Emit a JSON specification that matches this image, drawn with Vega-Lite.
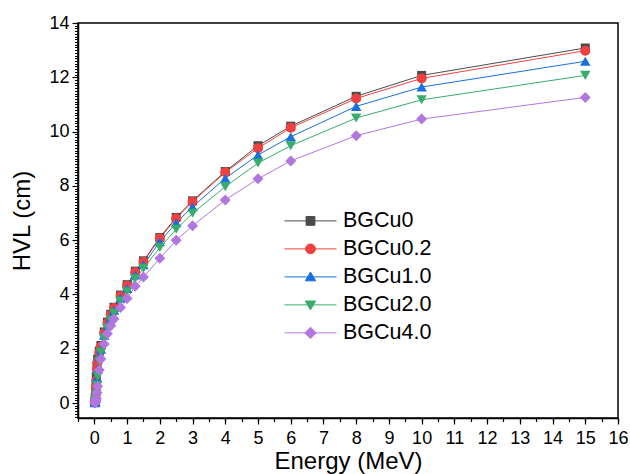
{
  "$schema": "https://vega.github.io/schema/vega-lite/v6.json",
  "autosize": {"type": "none"},
  "padding": {"left": 78, "top": 23, "right": 12, "bottom": 56},
  "width": 540,
  "height": 395,
  "background": "white",
  "config": {
    "font": "Liberation Sans",
    "view": {"stroke": "black", "strokeWidth": 1.5},
    "axis": {"domainColor": "black", "domainWidth": 1.5, "tickColor": "black", "tickWidth": 1.2, "labelColor": "black", "titleColor": "black", "grid": false, "labelFont": "Liberation Sans", "titleFont": "Liberation Sans", "titleFontWeight": "normal"}
  },
  "datasets": {
    "hvl": [
      {"series": "BGCu0", "e": 0.015, "v": 0.03}, {"series": "BGCu0", "e": 0.02, "v": 0.07}, {"series": "BGCu0", "e": 0.03, "v": 0.2}, {"series": "BGCu0", "e": 0.04, "v": 0.42}, {"series": "BGCu0", "e": 0.05, "v": 0.7}, {"series": "BGCu0", "e": 0.06, "v": 0.98}, {"series": "BGCu0", "e": 0.08, "v": 1.38}, {"series": "BGCu0", "e": 0.1, "v": 1.62}, {"series": "BGCu0", "e": 0.15, "v": 1.92}, {"series": "BGCu0", "e": 0.2, "v": 2.12}, {"series": "BGCu0", "e": 0.3, "v": 2.62}, {"series": "BGCu0", "e": 0.4, "v": 2.98}, {"series": "BGCu0", "e": 0.5, "v": 3.27}, {"series": "BGCu0", "e": 0.6, "v": 3.53}, {"series": "BGCu0", "e": 0.8, "v": 3.98}, {"series": "BGCu0", "e": 1, "v": 4.36}, {"series": "BGCu0", "e": 1.25, "v": 4.86}, {"series": "BGCu0", "e": 1.5, "v": 5.24}, {"series": "BGCu0", "e": 2, "v": 6.1}, {"series": "BGCu0", "e": 2.5, "v": 6.84}, {"series": "BGCu0", "e": 3, "v": 7.45}, {"series": "BGCu0", "e": 4, "v": 8.53}, {"series": "BGCu0", "e": 5, "v": 9.48}, {"series": "BGCu0", "e": 6, "v": 10.2}, {"series": "BGCu0", "e": 8, "v": 11.3}, {"series": "BGCu0", "e": 10, "v": 12.07}, {"series": "BGCu0", "e": 15, "v": 13.08},
      {"series": "BGCu0.2", "e": 0.015, "v": 0.02}, {"series": "BGCu0.2", "e": 0.02, "v": 0.05}, {"series": "BGCu0.2", "e": 0.03, "v": 0.15}, {"series": "BGCu0.2", "e": 0.04, "v": 0.33}, {"series": "BGCu0.2", "e": 0.05, "v": 0.58}, {"series": "BGCu0.2", "e": 0.06, "v": 0.83}, {"series": "BGCu0.2", "e": 0.08, "v": 1.25}, {"series": "BGCu0.2", "e": 0.1, "v": 1.52}, {"series": "BGCu0.2", "e": 0.15, "v": 1.86}, {"series": "BGCu0.2", "e": 0.2, "v": 2.07}, {"series": "BGCu0.2", "e": 0.3, "v": 2.58}, {"series": "BGCu0.2", "e": 0.4, "v": 2.94}, {"series": "BGCu0.2", "e": 0.5, "v": 3.24}, {"series": "BGCu0.2", "e": 0.6, "v": 3.5}, {"series": "BGCu0.2", "e": 0.8, "v": 3.95}, {"series": "BGCu0.2", "e": 1, "v": 4.32}, {"series": "BGCu0.2", "e": 1.25, "v": 4.82}, {"series": "BGCu0.2", "e": 1.5, "v": 5.2}, {"series": "BGCu0.2", "e": 2, "v": 6.07}, {"series": "BGCu0.2", "e": 2.5, "v": 6.8}, {"series": "BGCu0.2", "e": 3, "v": 7.42}, {"series": "BGCu0.2", "e": 4, "v": 8.5}, {"series": "BGCu0.2", "e": 5, "v": 9.39}, {"series": "BGCu0.2", "e": 6, "v": 10.14}, {"series": "BGCu0.2", "e": 8, "v": 11.22}, {"series": "BGCu0.2", "e": 10, "v": 11.96}, {"series": "BGCu0.2", "e": 15, "v": 12.98},
      {"series": "BGCu1.0", "e": 0.015, "v": 0.01}, {"series": "BGCu1.0", "e": 0.02, "v": 0.03}, {"series": "BGCu1.0", "e": 0.03, "v": 0.08}, {"series": "BGCu1.0", "e": 0.04, "v": 0.18}, {"series": "BGCu1.0", "e": 0.05, "v": 0.33}, {"series": "BGCu1.0", "e": 0.06, "v": 0.52}, {"series": "BGCu1.0", "e": 0.08, "v": 0.92}, {"series": "BGCu1.0", "e": 0.1, "v": 1.25}, {"series": "BGCu1.0", "e": 0.15, "v": 1.72}, {"series": "BGCu1.0", "e": 0.2, "v": 1.98}, {"series": "BGCu1.0", "e": 0.3, "v": 2.5}, {"series": "BGCu1.0", "e": 0.4, "v": 2.86}, {"series": "BGCu1.0", "e": 0.5, "v": 3.16}, {"series": "BGCu1.0", "e": 0.6, "v": 3.42}, {"series": "BGCu1.0", "e": 0.8, "v": 3.87}, {"series": "BGCu1.0", "e": 1, "v": 4.22}, {"series": "BGCu1.0", "e": 1.25, "v": 4.72}, {"series": "BGCu1.0", "e": 1.5, "v": 5.1}, {"series": "BGCu1.0", "e": 2, "v": 5.94}, {"series": "BGCu1.0", "e": 2.5, "v": 6.64}, {"series": "BGCu1.0", "e": 3, "v": 7.23}, {"series": "BGCu1.0", "e": 4, "v": 8.28}, {"series": "BGCu1.0", "e": 5, "v": 9.14}, {"series": "BGCu1.0", "e": 6, "v": 9.81}, {"series": "BGCu1.0", "e": 8, "v": 10.93}, {"series": "BGCu1.0", "e": 10, "v": 11.64}, {"series": "BGCu1.0", "e": 15, "v": 12.59},
      {"series": "BGCu2.0", "e": 0.015, "v": 0.01}, {"series": "BGCu2.0", "e": 0.02, "v": 0.02}, {"series": "BGCu2.0", "e": 0.03, "v": 0.05}, {"series": "BGCu2.0", "e": 0.04, "v": 0.11}, {"series": "BGCu2.0", "e": 0.05, "v": 0.2}, {"series": "BGCu2.0", "e": 0.06, "v": 0.33}, {"series": "BGCu2.0", "e": 0.08, "v": 0.65}, {"series": "BGCu2.0", "e": 0.1, "v": 0.98}, {"series": "BGCu2.0", "e": 0.15, "v": 1.55}, {"series": "BGCu2.0", "e": 0.2, "v": 1.88}, {"series": "BGCu2.0", "e": 0.3, "v": 2.4}, {"series": "BGCu2.0", "e": 0.4, "v": 2.76}, {"series": "BGCu2.0", "e": 0.5, "v": 3.06}, {"series": "BGCu2.0", "e": 0.6, "v": 3.32}, {"series": "BGCu2.0", "e": 0.8, "v": 3.76}, {"series": "BGCu2.0", "e": 1, "v": 4.1}, {"series": "BGCu2.0", "e": 1.25, "v": 4.58}, {"series": "BGCu2.0", "e": 1.5, "v": 4.96}, {"series": "BGCu2.0", "e": 2, "v": 5.73}, {"series": "BGCu2.0", "e": 2.5, "v": 6.4}, {"series": "BGCu2.0", "e": 3, "v": 6.99}, {"series": "BGCu2.0", "e": 4, "v": 7.97}, {"series": "BGCu2.0", "e": 5, "v": 8.84}, {"series": "BGCu2.0", "e": 6, "v": 9.48}, {"series": "BGCu2.0", "e": 8, "v": 10.5}, {"series": "BGCu2.0", "e": 10, "v": 11.17}, {"series": "BGCu2.0", "e": 15, "v": 12.07},
      {"series": "BGCu4.0", "e": 0.015, "v": 0.005}, {"series": "BGCu4.0", "e": 0.02, "v": 0.01}, {"series": "BGCu4.0", "e": 0.03, "v": 0.03}, {"series": "BGCu4.0", "e": 0.04, "v": 0.06}, {"series": "BGCu4.0", "e": 0.05, "v": 0.11}, {"series": "BGCu4.0", "e": 0.06, "v": 0.18}, {"series": "BGCu4.0", "e": 0.08, "v": 0.38}, {"series": "BGCu4.0", "e": 0.1, "v": 0.62}, {"series": "BGCu4.0", "e": 0.15, "v": 1.22}, {"series": "BGCu4.0", "e": 0.2, "v": 1.62}, {"series": "BGCu4.0", "e": 0.3, "v": 2.18}, {"series": "BGCu4.0", "e": 0.4, "v": 2.55}, {"series": "BGCu4.0", "e": 0.5, "v": 2.85}, {"series": "BGCu4.0", "e": 0.6, "v": 3.1}, {"series": "BGCu4.0", "e": 0.8, "v": 3.52}, {"series": "BGCu4.0", "e": 1, "v": 3.85}, {"series": "BGCu4.0", "e": 1.25, "v": 4.3}, {"series": "BGCu4.0", "e": 1.5, "v": 4.64}, {"series": "BGCu4.0", "e": 2, "v": 5.33}, {"series": "BGCu4.0", "e": 2.5, "v": 6.0}, {"series": "BGCu4.0", "e": 3, "v": 6.53}, {"series": "BGCu4.0", "e": 4, "v": 7.48}, {"series": "BGCu4.0", "e": 5, "v": 8.26}, {"series": "BGCu4.0", "e": 6, "v": 8.92}, {"series": "BGCu4.0", "e": 8, "v": 9.85}, {"series": "BGCu4.0", "e": 10, "v": 10.46}, {"series": "BGCu4.0", "e": 15, "v": 11.26}
    ]
  },
  "data": {"name": "hvl"},
  "resolve": {"axis": {"x": "independent", "y": "independent"}},
  "layer": [
    {
      "mark": {"type": "line", "strokeWidth": 1},
      "encoding": {
        "x": {"field": "e", "type": "quantitative", "scale": {"domain": [-0.5, 16], "nice": false, "zero": false},
              "axis": {"orient": "bottom", "values": [0,1,2,3,4,5,6,7,8,9,10,11,12,13,14,15,16], "tickSize": 6, "labelFontSize": 18, "labelPadding": 5, "title": "Energy (MeV)", "titleFontSize": 24, "titlePadding": 2, "labelFlush": false}},
        "y": {"field": "v", "type": "quantitative", "scale": {"domain": [-0.55, 14], "nice": false, "zero": false},
              "axis": {"orient": "left", "values": [0,2,4,6,8,10,12,14], "tickSize": 6, "labelFontSize": 18, "labelPadding": 3, "title": "HVL (cm)", "titleFontSize": 24, "titlePadding": 14, "labelFlush": false}},
        "color": {"field": "series", "type": "nominal",
                  "scale": {"domain": ["BGCu0", "BGCu0.2", "BGCu1.0", "BGCu2.0", "BGCu4.0"], "range": ["#4b4b4b", "#f14040", "#1a6fdf", "#37ad6b", "#b177de"]},
                  "legend": {
                    "orient": "none", "legendX": 206, "legendY": 184, "title": null, "padding": 0,
                    "labelFontSize": 21.5, "labelFont": "Liberation Sans", "labelColor": "black", "labelOffset": 6,
                    "rowPadding": 0, "clipHeight": 27.8, "symbolSize": 2704, "symbolStrokeWidth": 1,
                    "encode": {"symbols": {"update": {
                      "size": {"value": 2704},
                      "stroke": {"signal": "scale('color', datum.value)"},
                      "fill": {"signal": "scale('color', datum.value)"},
                      "strokeWidth": {"value": 1},
                      "opacity": {"value": 1}
                    }}}
                  }},
        "detail": {"field": "series"}
      }
    },
    {
      "transform": [{"filter": "datum.e < -100"}],
      "mark": {"type": "point", "filled": true, "size": 2704},
      "encoding": {
        "x": {"field": "e", "type": "quantitative", "axis": null},
        "y": {"field": "v", "type": "quantitative", "axis": null},
        "color": {"field": "series", "type": "nominal"},
        "shape": {"field": "series", "type": "nominal",
                  "scale": {"domain": ["BGCu0", "BGCu0.2", "BGCu1.0", "BGCu2.0", "BGCu4.0"],
                            "range": ["M-1,0H1M-0.17,-0.17H0.17V0.17H-0.17Z", "M-1,0H1M-0.19,0A0.19,0.19,0,1,1,0.19,0A0.19,0.19,0,1,1,-0.19,0Z", "M-1,0H1M0,-0.19L0.2,0.15H-0.2Z", "M-1,0H1M0,0.19L0.2,-0.15H-0.2Z", "M-1,0H1M0,-0.22L0.22,0L0,0.22L-0.22,0Z"]}}
      }
    },
    {
      "transform": [{"filter": "datum.series === 'BGCu0'"}],
      "mark": {"type": "point", "filled": true, "opacity": 1, "size": 81, "shape": "square"},
      "encoding": {"x": {"field": "e", "type": "quantitative", "axis": null}, "y": {"field": "v", "type": "quantitative", "axis": null}, "color": {"field": "series", "type": "nominal"}}
    },
    {
      "transform": [{"filter": "datum.series === 'BGCu0.2'"}],
      "mark": {"type": "point", "filled": true, "opacity": 1, "size": 100, "shape": "circle"},
      "encoding": {"x": {"field": "e", "type": "quantitative", "axis": null}, "y": {"field": "v", "type": "quantitative", "axis": null}, "color": {"field": "series", "type": "nominal"}}
    },
    {
      "transform": [{"filter": "datum.series === 'BGCu1.0'"}],
      "mark": {"type": "point", "filled": true, "opacity": 1, "size": 110, "shape": "triangle-up"},
      "encoding": {"x": {"field": "e", "type": "quantitative", "axis": null}, "y": {"field": "v", "type": "quantitative", "axis": null}, "color": {"field": "series", "type": "nominal"}}
    },
    {
      "transform": [{"filter": "datum.series === 'BGCu2.0'"}],
      "mark": {"type": "point", "filled": true, "opacity": 1, "size": 110, "shape": "triangle-down"},
      "encoding": {"x": {"field": "e", "type": "quantitative", "axis": null}, "y": {"field": "v", "type": "quantitative", "axis": null}, "color": {"field": "series", "type": "nominal"}}
    },
    {
      "transform": [{"filter": "datum.series === 'BGCu4.0'"}],
      "mark": {"type": "point", "filled": true, "opacity": 1, "size": 121, "shape": "diamond"},
      "encoding": {"x": {"field": "e", "type": "quantitative", "axis": null}, "y": {"field": "v", "type": "quantitative", "axis": null}, "color": {"field": "series", "type": "nominal"}}
    },
    {
      "mark": {"type": "point", "opacity": 0},
      "encoding": {
        "x": {"field": "e", "type": "quantitative",
              "axis": {"orient": "bottom", "tickCount": 33, "labels": false, "tickSize": 3.5, "title": null, "domain": false}},
        "y": {"field": "v", "type": "quantitative",
              "axis": {"orient": "left", "tickCount": 145, "labels": false, "tickSize": 3.5, "tickWidth": 1, "title": null, "domain": false}}
      }
    }
  ]
}
